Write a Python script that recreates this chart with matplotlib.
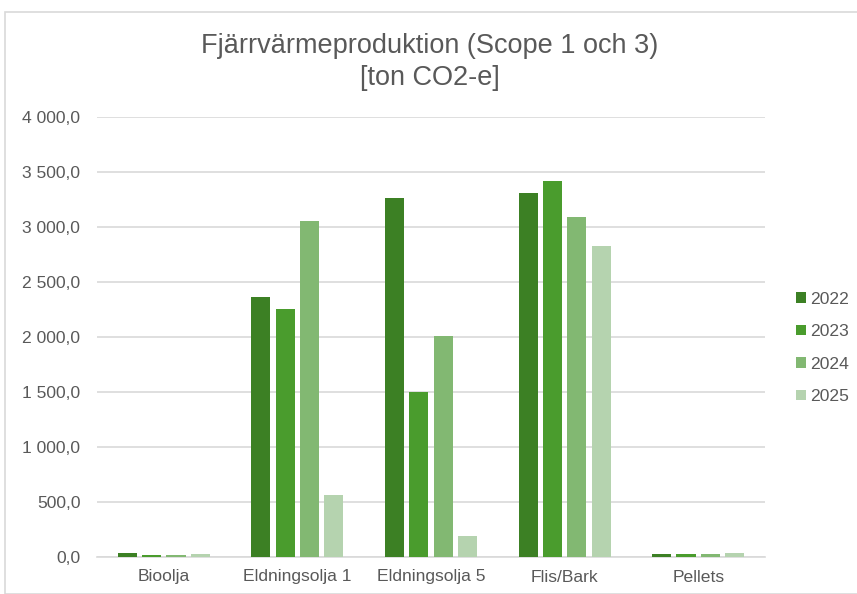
import matplotlib
matplotlib.use("Agg")
import matplotlib.pyplot as plt
import numpy as np
from matplotlib.patches import Rectangle
from matplotlib.ticker import FuncFormatter

plt.rcParams['font.family'] = ['Liberation Sans', 'DejaVu Sans']

categories = ["Bioolja", "Eldningsolja 1", "Eldningsolja 5", "Flis/Bark", "Pellets"]
years = ["2022", "2023", "2024", "2025"]
v2022 = [35, 2360, 3265, 3305, 25]
v2023 = [18, 2255, 1500, 3420, 25]
v2024 = [18, 3055, 2010, 3090, 25]
v2025 = [25, 565, 195, 2825, 32]
colors = ["#3C8024", "#4A9C2D", "#82B872", "#B5D3AF"]

W, H = 857, 594
fig = plt.figure(figsize=(W / 100, H / 100), dpi=100)
ax = fig.add_axes([97 / W, 37 / H, 668 / W, 440 / H])

x = np.arange(len(categories))
bw = 0.143
step = 0.182
for i, (vals, yr) in enumerate(zip([v2022, v2023, v2024, v2025], years)):
    ax.bar(x + (i - 1.5) * step, vals, width=bw, color=colors[i], label=yr, zorder=3)

ax.set_xlim(-0.5, len(categories) - 0.5)
ax.set_ylim(0, 4000)
ax.set_yticks(np.arange(0, 4001, 500))
fmt = lambda v, p: f"{v:,.1f}".replace(",", " ").replace(".", ",")
ax.yaxis.set_major_formatter(FuncFormatter(fmt))
ax.set_xticks(x)
ax.set_xticklabels(categories)
ax.grid(axis='y', color='#D9D9D9', linewidth=1.2, zorder=0)
for s in ['top', 'right', 'left']:
    ax.spines[s].set_visible(False)
ax.spines['bottom'].set_color('#D9D9D9')
ax.spines['bottom'].set_linewidth(1.2)
ax.tick_params(axis='both', length=0, colors='#595959', labelsize=12.6)
ax.tick_params(axis='y', pad=12)
ax.tick_params(axis='x', pad=9)

fig.text(430 / W, 1 - 46 / H, "Fjärrvärmeproduktion (Scope 1 och 3)", ha='center', va='center',
         fontsize=19.5, color='#595959')
fig.text(430 / W, 1 - 78 / H, "[ton CO2-e]", ha='center', va='center',
         fontsize=19.5, color='#595959')

ax.legend(loc='center left', bbox_to_anchor=(796 / W, 1 - 348 / H), bbox_transform=fig.transFigure,
          frameon=False, fontsize=12.6, labelcolor='#595959', handlelength=0.55, handleheight=0.55,
          handletextpad=0.25, labelspacing=1.0, borderpad=0, borderaxespad=0)

fig.patches.append(Rectangle((5 / W, 0), 1, 1 - 12 / H, transform=fig.transFigure,
                             fill=False, edgecolor='#D9D9D9', linewidth=1.2))

fig.savefig("out.png", dpi=100)
